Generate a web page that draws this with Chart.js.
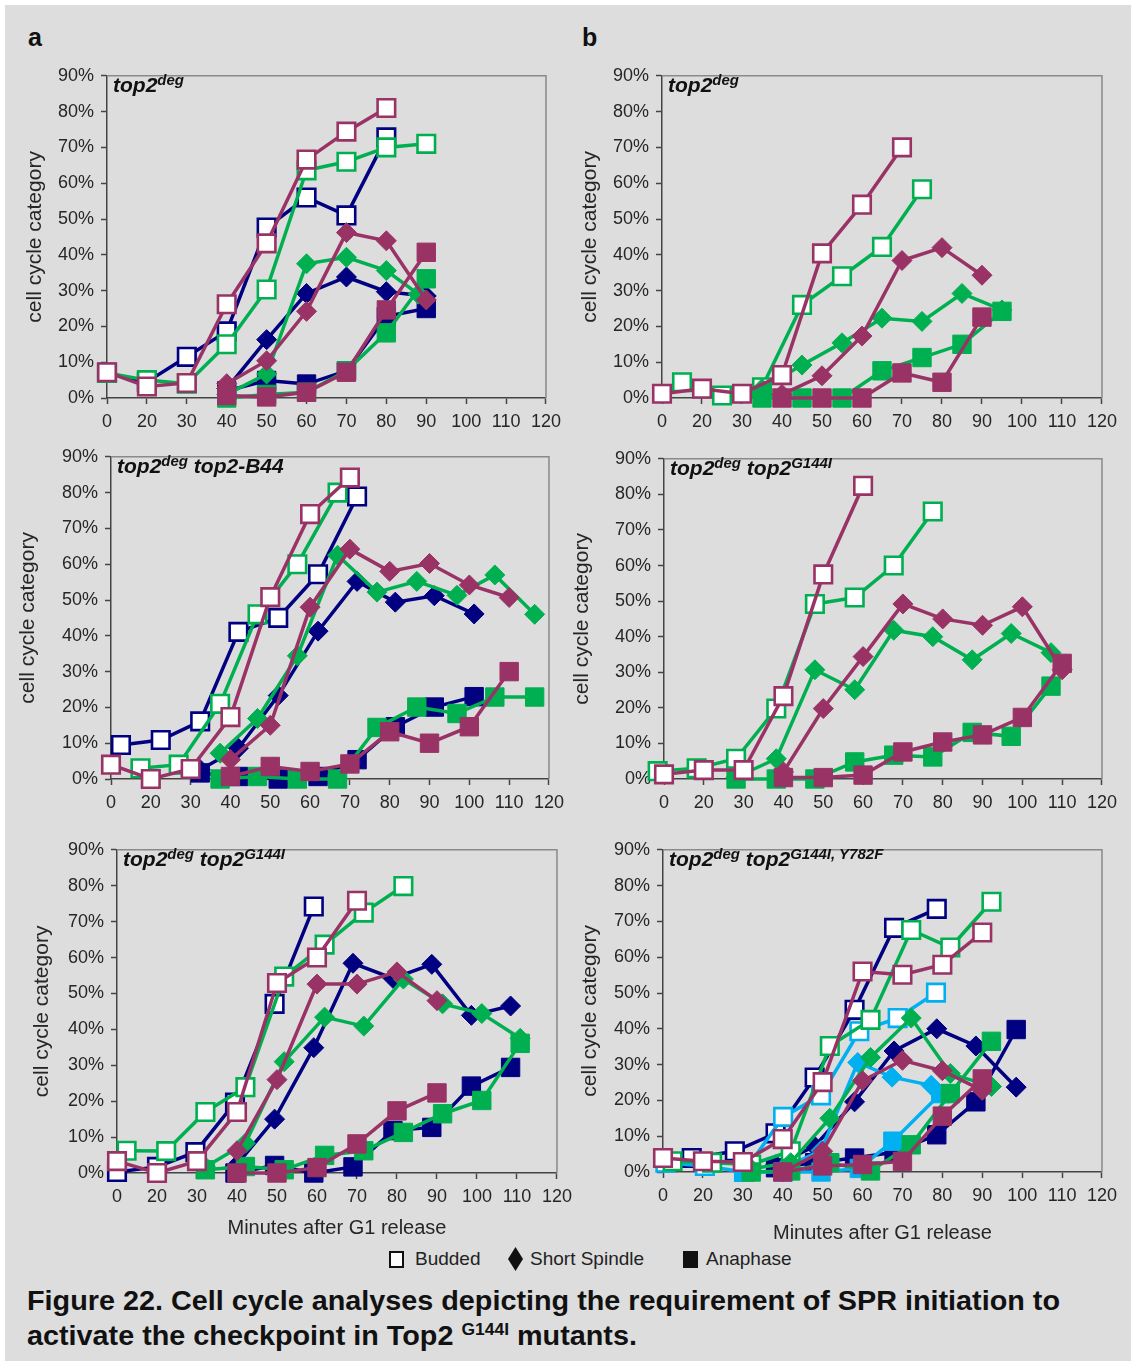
<!DOCTYPE html>
<html><head><meta charset="utf-8">
<script src="https://cdn.jsdelivr.net/npm/chart.js@4"></script>
<style>
body{margin:0;background:#fff;width:1135px;height:1365px;position:relative;overflow:hidden;font-family:"Liberation Sans",Arial,sans-serif;}
#bg{position:absolute;left:5px;top:5px;width:1126px;height:1356px;background:#dddddd;}
canvas{position:absolute;}
.plab{position:absolute;font-weight:bold;font-style:italic;font-size:21px;color:#111;white-space:nowrap;line-height:22px;}
.plab sup{font-size:15px;vertical-align:7px;line-height:0;}
.letter{position:absolute;font-weight:bold;font-size:25px;color:#111;line-height:1;}
.leg{position:absolute;font-size:19px;color:#222;line-height:20px;white-space:nowrap;}
.cap{position:absolute;left:27px;font-weight:bold;font-size:28px;color:#111;white-space:nowrap;line-height:30px;transform-origin:0 50%;}
.cap sup{font-size:17px;vertical-align:10px;line-height:0;}
</style></head>
<body>
<div id="bg"></div>
<div class="letter" style="left:28px;top:25px">a</div>
<div class="letter" style="left:582px;top:25px">b</div>

<div class="leg" style="left:389px;top:1251px;width:11px;height:13px;border:2px solid #111;background:#fff"></div>
<div class="leg" style="left:415px;top:1249px">Budded</div>
<div class="leg" style="left:508px;top:1247px;width:15px;height:24px;background:#111;clip-path:polygon(50% 0,100% 50%,50% 100%,0 50%)"></div>
<div class="leg" style="left:530px;top:1249px">Short Spindle</div>
<div class="leg" style="left:683px;top:1251px;width:15px;height:17px;background:#111"></div>
<div class="leg" style="left:706px;top:1249px">Anaphase</div>

<div class="cap" id="c1" style="top:1286px">Figure 22. Cell cycle analyses depicting the requirement of SPR initiation to</div>
<div class="cap" id="c2" style="top:1321px">activate the checkpoint in Top2 <sup>G144I</sup> mutants.</div>

<script>
// ---------- axis ticks ----------
const xTickValues = [10,20,30,40,50,60,70,80,90,100,110,120];
const xTickLabels = ['0','20','30','40','50','60','70','80','90','100','110','120'];
const yTickValues = [0,10,20,30,40,50,60,70,80,90];

// ---------- panel a, top: top2deg ----------
const a1NavyBud  = [[10,7],[20,4.5],[30,11.5],[40,18.6],[50,47.6],[60,56],[70,51],[80,72.8]];
const a1GreenBud = [[10,7],[20,5],[30,4],[40,15],[50,30.3],[60,63.6],[70,66],[80,70],[90,71]];
const a1MagBud   = [[10,7.2],[20,3.2],[30,4.2],[40,26.2],[50,43.2],[60,66.6],[70,74.4],[80,81]];
const a1NavySp   = [[40,2.6],[50,16.3],[60,29.2],[70,33.8],[80,29.7],[90,28.5]];
const a1GreenSp  = [[40,1],[50,6.7],[60,37.5],[70,39.3],[80,35.6],[88,29]];
const a1MagSp    = [[40,4],[50,10.4],[60,24.2],[70,46.2],[80,43.9],[90,27.4]];
const a1NavyAna  = [[40,2],[50,4.9],[60,3.9],[70,7.6],[80,22.8],[90,25]];
const a1GreenAna = [[40,0],[50,1],[60,1.6],[70,7.6],[80,18.2],[90,33.3]];
const a1MagAna   = [[40,0.7],[50,0.3],[60,1.6],[70,7.2],[80,24.6],[90,40.7]];

// ---------- panel b, top: top2deg ----------
const b1GreenBud = [[15,4.4],[25,0.7],[35,3],[45,26],[55,34],[65,42.2],[75,58.3]];
const b1MagBud   = [[10,1.2],[20,2.6],[30,1.2],[40,6.4],[50,40.4],[60,54],[70,70]];
const b1GreenSp  = [[35,2.6],[45,9.2],[55,15.4],[65,22.3],[75,21.4],[85,29.2],[95,24.6]];
const b1MagSp    = [[40,1],[50,6.2],[60,17.3],[70,38.4],[80,42],[90,34.3]];
const b1GreenAna = [[35,0],[45,0],[55,0],[65,7.6],[75,11.3],[85,15],[95,24.2]];
const b1MagAna   = [[40,0],[50,0],[60,0],[70,7],[80,4.4],[90,22.6]];

// ---------- panel a, middle: top2deg top2-B44 ----------
const a2NavyBud  = [[12.5,9.5],[22.5,10.9],[32.4,16.1],[42,41.1],[52,45],[62,57.2],[71.8,78.9]];
const a2GreenBud = [[17.4,3],[27,4],[37.4,21],[46.8,46],[56.8,60],[66.9,80]];
const a2MagBud   = [[10,4],[20,0],[30,2.8],[40,17.3],[50,50.8],[60,74],[70,84.2]];
const a2NavySp   = [[32.4,2.6],[42,8.6],[52,23.3],[62,41.3],[71.8,55.2],[81.4,49.4],[91.2,51.2],[101.2,46.1]];
const a2GreenSp  = [[37.4,7.2],[46.8,16.9],[56.8,34.4],[66.9,62.5],[76.8,52.2],[86.8,55.2],[96.9,51.3],[106.4,57],[116.4,46]];
const a2MagSp    = [[40,5.4],[50,15],[60,48],[70,64.2],[80,58],[90,60.2],[100,54.2],[110,50.7]];
const a2NavyAna  = [[32.4,1.7],[42,0.7],[52,0],[62,0.7],[71.8,5.4],[81.4,14.6],[91.2,20.1],[101.2,23]];
const a2GreenAna = [[37.4,0],[46.8,0.7],[56.8,0],[66.9,0],[76.8,14.4],[86.8,20.1],[96.9,18.3],[106.4,22.9],[116.4,22.9]];
const a2MagAna   = [[40,0.7],[50,3.5],[60,2.1],[70,4.2],[80,13.2],[90,10],[100,14.6],[110,30]];

// ---------- panel b, middle: top2deg top2G144I ----------
const b2GreenBud = [[8.4,2.2],[18.2,3],[28.1,5.7],[38.2,19.8],[47.9,49.2],[57.9,51],[67.7,60],[77.5,75.2]];
const b2MagBud   = [[10,1.3],[20,2.5],[30,2.5],[40,23.3],[50,57.5],[60,82.4]];
const b2GreenSp  = [[28.1,0.5],[38.2,5.7],[47.9,30.7],[57.9,25.1],[67.7,41.8],[77.5,40],[87.4,33.5],[97.2,40.9],[107.2,35.5]];
const b2MagSp    = [[40,2],[50,19.8],[60,34.4],[70,49.2],[80,45],[90,43.2],[100,48.4],[110,30.7]];
const b2GreenAna = [[28.1,0],[38.2,0],[47.9,0],[57.9,4.8],[67.7,6.7],[77.5,6.2],[87.4,13.1],[97.2,12],[107.2,26.1]];
const b2MagAna   = [[40,0.4],[50,0.4],[60,1.1],[70,7.6],[80,10.4],[90,12.4],[100,17.3],[110,32.5]];

// ---------- panel a, bottom: top2deg top2G144I ----------
const a3NavyBud  = [[10,0.3],[20,1.7],[29.6,5.8],[39.5,19.6],[49.4,47.1],[59.2,74.2]];
const a3GreenBud = [[12.4,6.2],[22.3,6.1],[32.1,17],[42.1,23.9],[51.8,54.7],[61.9,63.6],[71.7,72.5],[81.6,79.9]];
const a3MagBud   = [[10,3.3],[20,0],[30,3.3],[40,17],[50,52.9],[60,60],[70,75.8]];
const a3NavySp   = [[39.5,1.7],[49.4,15],[59.2,34.9],[69,58.4],[79,54.2],[88.7,58.1],[98.6,43.9],[108.4,46.5]];
const a3GreenSp  = [[32.1,1.7],[42.1,8.3],[51.8,31],[61.9,43.4],[71.7,40.9],[81.6,54],[91.4,47.1],[101.2,44.4],[110.8,37.5]];
const a3MagSp    = [[40,6.2],[50,26],[60,52.6],[70,52.6],[80,56],[90,48]];
const a3NavyAna  = [[39.5,0],[49.4,2.1],[59.2,0],[69,1.7],[79,11.8],[88.7,12.7],[98.6,24.2],[108.4,29.4]];
const a3GreenAna = [[32.1,0.9],[42.1,1.8],[51.8,0.9],[61.9,4.9],[71.7,6.2],[81.6,11.3],[91.4,16.5],[101.2,20.2],[110.8,36.1]];
const a3MagAna   = [[40,0],[50,0],[60,1.5],[70,8.1],[80,17.3],[90,22.3]];

// ---------- panel b, bottom: top2deg top2G144I,Y782F ----------
const b3NavyBud  = [[17.2,3.9],[28,5.8],[38.2,10.8],[48,26.4],[58,45.3],[67.9,68.2],[78.6,73.5]];
const b3LblueBud = [[10.6,2.6],[20.5,1.7],[30.3,0],[40.1,15.4],[49.6,21.4],[59.2,39.3],[68.8,43],[78.4,50.1]];
const b3GreenBud = [[12.4,3],[22.3,2.6],[32.1,2.1],[42,5.8],[51.8,35.2],[62,42.5],[72.2,67.6],[82,62.7],[92.3,75.5]];
const b3MagBud   = [[10,3.9],[20,3],[30,2.8],[40,9.2],[50,25.1],[60,56],[70,55.1],[80,57.9],[90,66.9]];
const b3NavySp   = [[38.2,2],[48,7.2],[58,19.6],[67.9,33.8],[78.6,40],[88.4,35.2],[98.5,23.7]];
const b3LblueSp  = [[40.1,1],[49.6,6],[58.8,30.6],[67.4,26.5],[77.2,24.2]];
const b3GreenSp  = [[32.1,0.9],[42,2.6],[51.8,15],[62,32],[72.2,43],[82,27.5],[92.3,23.9]];
const b3MagSp    = [[40,0],[50,5.8],[60,25.5],[70,31.2],[80,28.3],[90,22.8]];
const b3NavyAna  = [[38.2,1.2],[48,2.6],[58,3.9],[67.9,5.5],[78.6,10.4],[88.4,19.6],[98.5,39.8]];
const b3LblueAna = [[30.3,0],[40.1,0],[49.6,0],[59.2,1],[67.6,8.6],[79.6,21.9]];
const b3GreenAna = [[32.1,0],[42,0.3],[51.8,2.6],[62,0.3],[72.2,7.6],[82,21.9],[92.3,36.5]];
const b3MagAna   = [[40,0],[50,1.7],[60,2.1],[70,3],[80,15.6],[90,26]];

// ---------- styling ----------
const NAVY = '#000080', GREEN = '#00b050', MAG = '#993366', LBLUE = '#00b0f0';
const ORDER = {[MAG]:1, [GREEN]:2, [LBLUE]:3, [NAVY]:4};
const KORD = {bud:0.3, sp:0.2, ana:0.1};

function ds(data, color, kind) {
  const open = kind === 'bud';
  const r = kind === 'sp' ? 10 : (open ? 12.4 : 13);
  return {
    data, showLine: true, clip: false,
    borderColor: color, backgroundColor: color, borderWidth: 3.5,
    pointStyle: kind === 'sp' ? 'rectRot' : 'rect',
    pointRadius: r, pointHoverRadius: r,
    pointBackgroundColor: open ? '#ffffff' : color,
    pointBorderColor: color,
    pointBorderWidth: open ? 2.6 : 1,
    order: ORDER[color] + KORD[kind]
  };
}

Chart.defaults.font.family = '"Liberation Sans", Arial, sans-serif';
Chart.defaults.font.size = 18;
Chart.defaults.color = '#262626';

const framePlugin = {
  id: 'frame',
  beforeDatasetsDraw(chart) {
    const {ctx, chartArea: {left, top, right, bottom}} = chart;
    ctx.save();
    ctx.strokeStyle = '#8a8a8a';
    ctx.lineWidth = 1.5;
    ctx.beginPath();
    ctx.moveTo(left, top); ctx.lineTo(right, top); ctx.lineTo(right, bottom);
    ctx.stroke();
    ctx.restore();
  }
};

const panels = [
  {L:107, T:72,  R:548,  B:398,  YW:84, label:'top2<sup>deg</sup>', xt:false,
   sets:[ds(a1NavyBud,NAVY,'bud'),ds(a1GreenBud,GREEN,'bud'),ds(a1MagBud,MAG,'bud'),
         ds(a1NavySp,NAVY,'sp'),ds(a1GreenSp,GREEN,'sp'),ds(a1MagSp,MAG,'sp'),
         ds(a1NavyAna,NAVY,'ana'),ds(a1GreenAna,GREEN,'ana'),ds(a1MagAna,MAG,'ana')]},
  {L:662, T:72,  R:1104, B:398,  YW:84, label:'top2<sup>deg</sup>', xt:false,
   sets:[ds(b1GreenBud,GREEN,'bud'),ds(b1MagBud,MAG,'bud'),
         ds(b1GreenSp,GREEN,'sp'),ds(b1MagSp,MAG,'sp'),
         ds(b1GreenAna,GREEN,'ana'),ds(b1MagAna,MAG,'ana')]},
  {L:111, T:453, R:551,  B:779,  YW:95, label:'top2<sup>deg</sup> top2-B44', xt:false,
   sets:[ds(a2NavyBud,NAVY,'bud'),ds(a2GreenBud,GREEN,'bud'),ds(a2MagBud,MAG,'bud'),
         ds(a2NavySp,NAVY,'sp'),ds(a2GreenSp,GREEN,'sp'),ds(a2MagSp,MAG,'sp'),
         ds(a2NavyAna,NAVY,'ana'),ds(a2GreenAna,GREEN,'ana'),ds(a2MagAna,MAG,'ana')]},
  {L:664, T:455, R:1104, B:779,  YW:94, label:'top2<sup>deg</sup> top2<sup>G144I</sup>', xt:false,
   sets:[ds(b2GreenBud,GREEN,'bud'),ds(b2MagBud,MAG,'bud'),
         ds(b2GreenSp,GREEN,'sp'),ds(b2MagSp,MAG,'sp'),
         ds(b2GreenAna,GREEN,'ana'),ds(b2MagAna,MAG,'ana')]},
  {L:117, T:846, R:559,  B:1173, YW:87, label:'top2<sup>deg</sup> top2<sup>G144I</sup>', xt:true, XH:67,
   sets:[ds(a3NavyBud,NAVY,'bud'),ds(a3GreenBud,GREEN,'bud'),ds(a3MagBud,MAG,'bud'),
         ds(a3NavySp,NAVY,'sp'),ds(a3GreenSp,GREEN,'sp'),ds(a3MagSp,MAG,'sp'),
         ds(a3NavyAna,NAVY,'ana'),ds(a3GreenAna,GREEN,'ana'),ds(a3MagAna,MAG,'ana')]},
  {L:663, T:846, R:1104, B:1172, YW:85, label:'top2<sup>deg</sup> top2<sup>G144I, Y782F</sup>', xt:true, XH:73,
   sets:[ds(b3NavyBud,NAVY,'bud'),ds(b3LblueBud,LBLUE,'bud'),ds(b3GreenBud,GREEN,'bud'),ds(b3MagBud,MAG,'bud'),
         ds(b3NavySp,NAVY,'sp'),ds(b3LblueSp,LBLUE,'sp'),ds(b3GreenSp,GREEN,'sp'),ds(b3MagSp,MAG,'sp'),
         ds(b3NavyAna,NAVY,'ana'),ds(b3LblueAna,LBLUE,'ana'),ds(b3GreenAna,GREEN,'ana'),ds(b3MagAna,MAG,'ana')]}
];

const PT = 14, PR = 20;
panels.forEach((p, i) => {
  const XH = p.XH || 34;
  const cv = document.createElement('canvas');
  const w = p.YW + (p.R - p.L) + PR, h = PT + (p.B - p.T) + XH;
  cv.width = w; cv.height = h;
  cv.style.left = (p.L - p.YW) + 'px';
  cv.style.top = (p.T - PT) + 'px';
  cv.style.width = w + 'px'; cv.style.height = h + 'px';
  document.body.appendChild(cv);

  const lab = document.createElement('div');
  lab.className = 'plab';
  lab.innerHTML = p.label;
  lab.style.left = (p.L + 6) + 'px';
  lab.style.top = (p.T + 2) + 'px';
  document.body.appendChild(lab);

  new Chart(cv, {
    type: 'scatter',
    data: {datasets: p.sets},
    plugins: [framePlugin],
    options: {
      responsive: false, animation: false, devicePixelRatio: 1,
      layout: {padding: {top: PT, right: PR, left: 0, bottom: 0}},
      plugins: {legend: {display: false}, tooltip: {enabled: false}},
      scales: {
        x: {
          type: 'linear', min: 10, max: 120,
          afterBuildTicks: s => { s.ticks = xTickValues.map(v => ({value: v})); },
          afterFit: s => { s.height = XH; },
          ticks: {autoSkip: false, maxRotation: 0, padding: 7, color: '#262626',
                  callback: (v, idx) => xTickLabels[idx]},
          grid: {display: true, drawOnChartArea: false, drawTicks: true, tickLength: 6, tickColor: '#444', tickWidth: 1.5},
          border: {display: true, color: '#444', width: 1.5},
          title: {display: p.xt, text: 'Minutes after G1 release', font: {size: 20}, color: '#262626', padding: 0}
        },
        y: {
          type: 'linear', min: 0, max: 90,
          afterBuildTicks: s => { s.ticks = yTickValues.map(v => ({value: v})); },
          afterFit: s => { s.width = p.YW; },
          ticks: {padding: 7, color: '#262626', callback: v => v + '%'},
          grid: {display: true, drawOnChartArea: false, drawTicks: true, tickLength: 6, tickColor: '#444', tickWidth: 1.5},
          border: {display: true, color: '#444', width: 1.5},
          title: {display: true, text: 'cell cycle category', font: {size: 21}, color: '#262626', padding: 0}
        }
      }
    }
  });
});

// fit caption width to reference line length
const c1 = document.getElementById('c1'), c2 = document.getElementById('c2');
const sc = 1033 / c1.getBoundingClientRect().width;
c1.style.transform = 'scaleX(' + sc + ')';
c2.style.transform = 'scaleX(' + sc + ')';
</script>
</body></html>
